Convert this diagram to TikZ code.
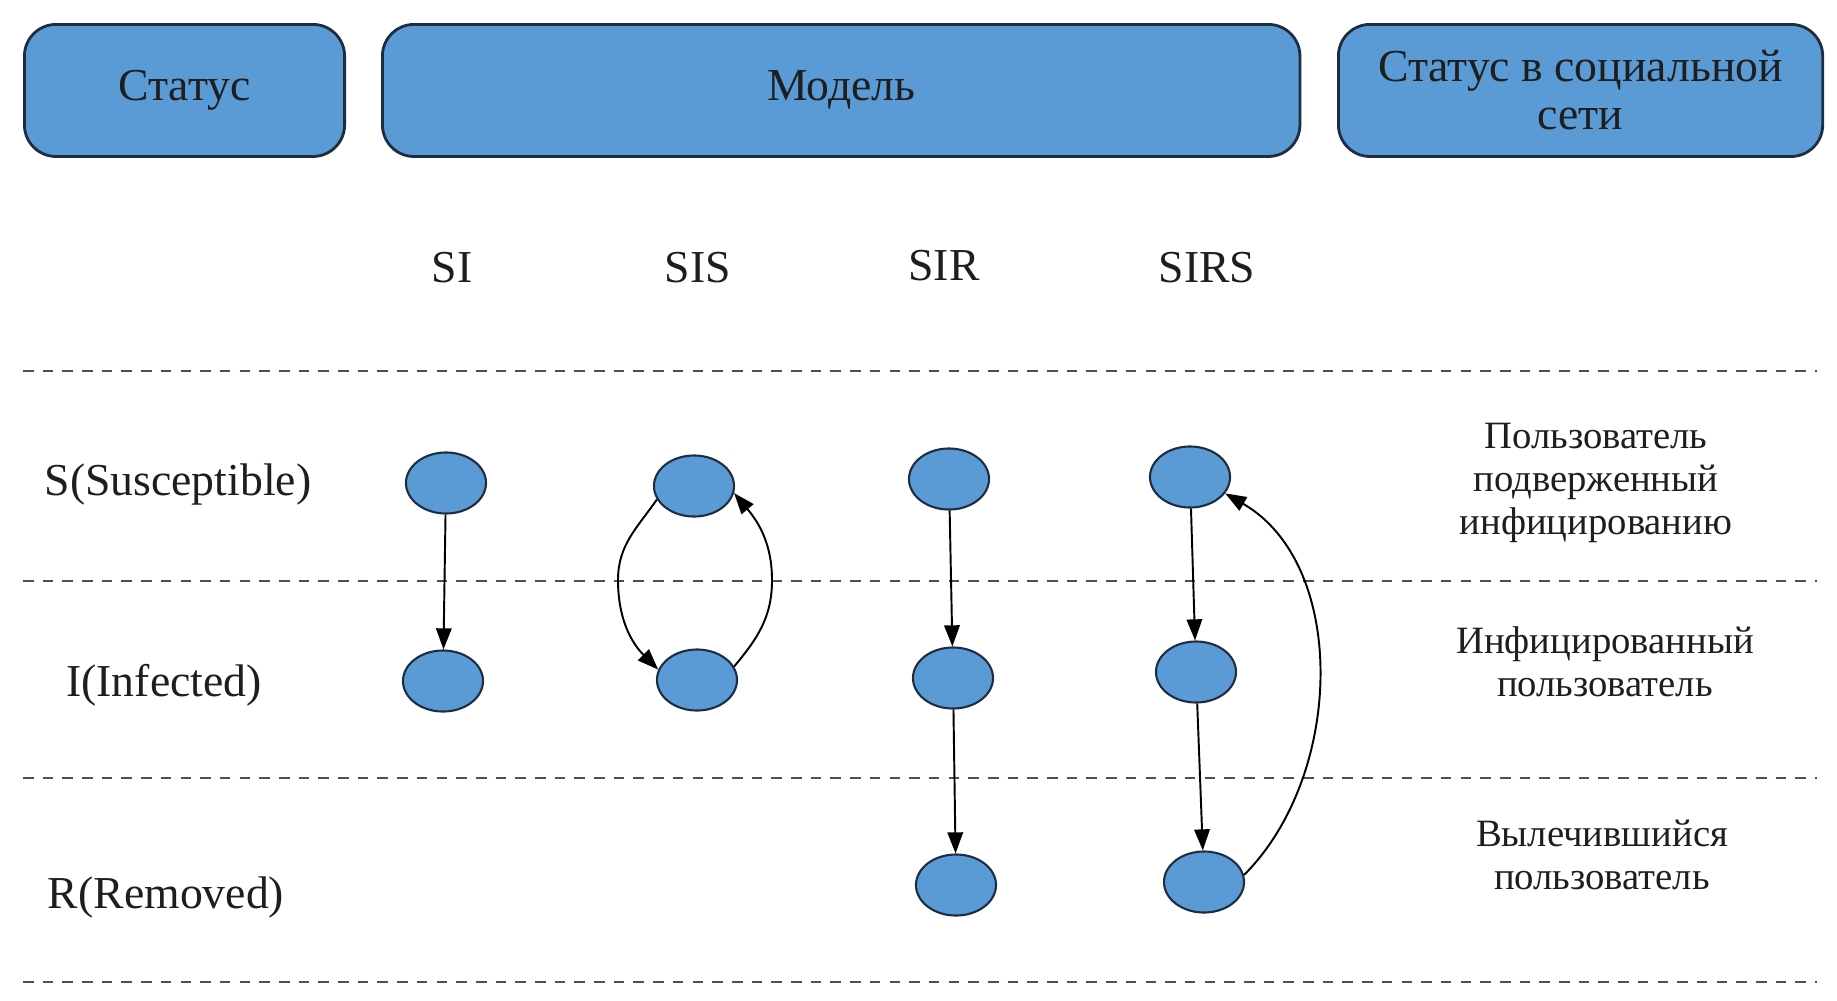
\documentclass[tikz,border=0pt]{standalone}
\usepackage{fontspec}
\setmainfont{Liberation Serif}
\usetikzlibrary{shapes.geometric,arrows.meta}
\definecolor{boxblue}{RGB}{91,155,213}
\definecolor{boxedge}{RGB}{30,45,65}
\definecolor{dashgray}{RGB}{80,80,80}
\definecolor{txt}{RGB}{30,30,30}
\tikzset{
  header/.style={draw=boxedge, line width=0.8pt, fill=boxblue, rounded corners=9pt, text=txt, font=\fontsize{13}{13.6}\selectfont, align=center},
  state/.style={ellipse, draw=boxedge, line width=0.6pt, fill=boxblue, minimum width=0.8cm, minimum height=0.61cm, inner sep=0pt},
  sep/.style={dashgray, line width=0.7pt, dash pattern=on 3pt off 2.6pt},
  arr/.style={black, line width=0.55pt, -{Triangle[length=6pt,width=4.4pt]}},
  lab/.style={text=txt, font=\fontsize{13}{14}\selectfont},
  rlab/.style={text=txt, font=\fontsize{11}{12.3}\selectfont, align=center}
}
\begin{document}
\begin{tikzpicture}[x=0.01cm, y=-0.01cm]
\useasboundingbox (0,0) rectangle (1837,1000);
% header boxes
\node[header, minimum width=3.2cm, minimum height=1.32cm, anchor=north west] (hStatus) at (23,23) {Статус};
\node[header, minimum width=9.17cm, minimum height=1.32cm, anchor=north west] (hModel) at (381,23) {Модель};
\node[header, minimum width=4.84cm, minimum height=1.32cm, anchor=north west] (hSocial) at (1337,23) {Статус в социальной\\сети};
% model labels
\node[lab] (mSI) at (452,268) {SI};
\node[lab] (mSIS) at (698,268) {SIS};
\node[lab] (mSIR) at (944,266) {SIR};
\node[lab] (mSIRS) at (1207,268) {SIRS};
% dashed separators
\coordinate (d1a) at (23,371); \coordinate (d1b) at (1817,371);
\coordinate (d2a) at (23,581); \coordinate (d2b) at (1817,581);
\coordinate (d3a) at (23,778); \coordinate (d3b) at (1817,778);
\coordinate (d4a) at (23,982); \coordinate (d4b) at (1817,982);
\draw[sep] (d1a) -- (d1b);
\draw[sep] (d2a) -- (d2b);
\draw[sep] (d3a) -- (d3b);
\draw[sep] (d4a) -- (d4b);
% row labels
\node[lab] (rS) at (178,484) {S(Susceptible)};
\node[lab] (rI) at (164,685) {I(Infected)};
\node[lab] (rR) at (166,897) {R(Removed)};
% right labels
\node[rlab] (tS) at (1596,483) {Пользователь\\подверженный\\инфицированию};
\node[rlab] (tI) at (1605,662) {Инфицированный\\пользователь};
\node[rlab] (tR) at (1602,855) {Вылечившийся\\пользователь};
% nodes
\node[state] (siS) at (446,483) {};
\node[state] (siI) at (443,681) {};
\node[state] (sisS) at (694,486) {};
\node[state] (sisI) at (697,680) {};
\node[state] (sirS) at (949,479) {};
\node[state] (sirI) at (953,678) {};
\node[state] (sirR) at (956,885) {};
\node[state] (sirsS) at (1190,477) {};
\node[state] (sirsI) at (1196,672) {};
\node[state] (sirsR) at (1204,882) {};
\coordinate (sisL) at (618,580);
\coordinate (sisR) at (772,580);
% connectors
\draw[arr] (siS) -- (siI);
\draw[arr] (sisS.200) to[out=235,in=90] (sisL) to[out=270,in=135] (sisI.165);
\draw[arr] (sisI.20) to[out=50,in=270] (sisR) to[out=90,in=-50] (sisS.-10);
\draw[arr] (sirS) -- (sirI);
\draw[arr] (sirI) -- (sirR);
\draw[arr] (sirsS) -- (sirsI);
\draw[arr] (sirsI) -- (sirsR);
\draw[arr] (sirsR.10) to[out=45,in=-30,looseness=0.95] (sirsS.-25);
\end{tikzpicture}
\end{document}
